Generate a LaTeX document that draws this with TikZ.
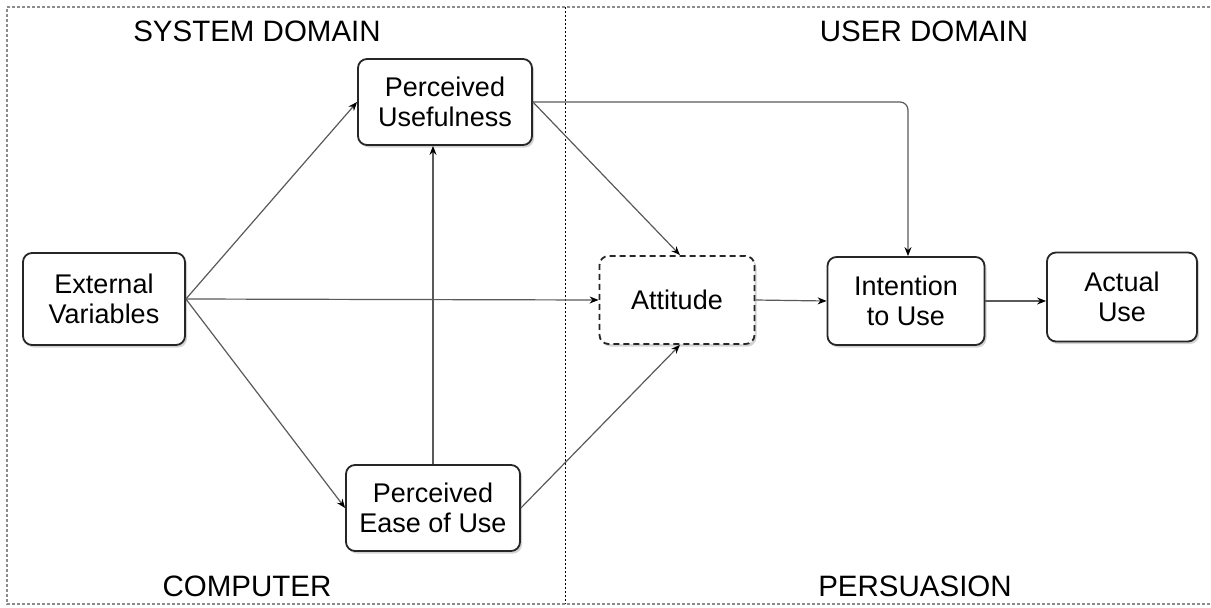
\documentclass[tikz,border=0pt]{standalone}
\usepackage{fontspec}
\setmainfont{Liberation Sans}
\usetikzlibrary{arrows.meta,shadows}
\tikzset{
  x=1pt,y=-1pt,
  box/.style={draw=black!85,line width=1.8pt,rounded corners=9pt,fill=white,align=center,
    font=\fontsize{27}{30.5}\selectfont,inner sep=0pt,
    drop shadow={shadow xshift=2pt,shadow yshift=-2.5pt,opacity=0.35,fill=black!50}},
  dbox/.style={box,dashed,dash pattern=on 6pt off 4pt},
  conn/.style={draw=black!65,line width=1.2pt,-{Stealth[length=9pt,width=7pt,color=black]}},
  title/.style={font=\fontsize{29.5}{32}\selectfont,inner sep=0pt},
}
\begin{document}
\begin{tikzpicture}
\useasboundingbox (0,0) rectangle (1211,608);
% frame
\coordinate (ftr) at (1220,7);
\coordinate (ftl) at (7,7);
\coordinate (fbl) at (7,604);
\coordinate (fbr) at (1220,604);
\draw[black!45,line width=1.6pt,dash pattern=on 3pt off 2pt] (ftr) -- (ftl) -- (fbl) -- (fbr);
\coordinate (dt) at (565,7);
\coordinate (db) at (565,604);
\draw[black,line width=1pt,dash pattern=on 2pt off 2pt] (dt) -- (db);
% titles
\node[title] (t1) at (257,31) {SYSTEM DOMAIN};
\node[title] (t2) at (924,31) {USER DOMAIN};
\node[title] (t3) at (247,586) {COMPUTER};
\node[title] (t4) at (915,586) {PERSUASION};
% boxes
\node[box,minimum width=162pt,minimum height=92pt] (ev) at (104,299) {External\\Variables};
\node[box,minimum width=174pt,minimum height=86pt] (pu) at (445,102) {Perceived\\Usefulness};
\node[box,minimum width=174pt,minimum height=86pt] (pe) at (433,508) {Perceived\\Ease of Use};
\node[dbox,minimum width=155pt,minimum height=88pt] (at) at (677,300) {Attitude};
\node[box,minimum width=157pt,minimum height=88pt] (in) at (906,301) {Intention\\to Use};
\node[box,minimum width=150pt,minimum height=89pt] (au) at (1122,297) {Actual\\Use};
% connectors
\draw[conn] (ev.east) -- (pu.west);
\draw[conn] (ev.east) -- (pe.west);
\draw[conn] (ev.east) -- (at.west);
\draw[conn] (pe.north -| 433,0) -- (pu.south -| 433,0);
\draw[conn] (pu.east) -- ([xshift=3pt]at.north);
\draw[conn] (pe.east) -- ([xshift=3pt]at.south);
\draw[conn,rounded corners=8pt] (pu.east) -| ([xshift=2pt]in.north);
\draw[conn] (at.east) -- (in.west);
\draw[conn] (in.east) -- (in.east -| au.west);
\end{tikzpicture}
\end{document}
